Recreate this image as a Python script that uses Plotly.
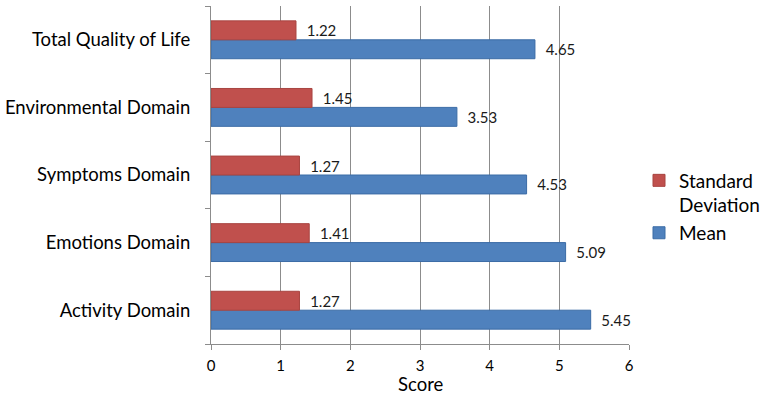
import plotly.graph_objects as go

categories = ["Activity Domain", "Emotions Domain", "Symptoms Domain",
              "Environmental Domain", "Total Quality of Life"]
mean_vals = [5.45, 5.09, 4.53, 3.53, 4.65]
sd_vals = [1.27, 1.41, 1.27, 1.45, 1.22]
x_ticks = [0, 1, 2, 3, 4, 5, 6]

FONT = "Lato, Liberation Sans, sans-serif"

fig = go.Figure()
fig.add_trace(go.Bar(
    y=categories, x=mean_vals, orientation="h", name="Mean", legendgroup="m",
    marker=dict(color="#4F81BD", line=dict(color="#3B6CA6", width=1)),
    text=[f"{v:.2f}" for v in mean_vals], textposition="outside",
    texttemplate="  %{text}",
    textfont=dict(family=FONT, size=15, color="#1a1a1a"), cliponaxis=False,
))
fig.add_trace(go.Bar(
    y=categories, x=sd_vals, orientation="h", name="Standard<br>Deviation", legendgroup="s",
    marker=dict(color="#C0504D", line=dict(color="#A84440", width=1)),
    text=[f"{v:.2f}" for v in sd_vals], textposition="outside",
    texttemplate="  %{text}",
    textfont=dict(family=FONT, size=15, color="#1a1a1a"), cliponaxis=False,
))

fig.update_layout(
    width=765, height=394,
    margin=dict(l=211, r=136, t=6, b=50, autoexpand=False),
    barmode="group", bargap=0.44, bargroupgap=0,
    plot_bgcolor="white", paper_bgcolor="white",
    font=dict(family=FONT, color="#000000"),
    legend=dict(x=(639 - 211) / 418, y=(344 - 207) / 338, xanchor="left", yanchor="middle",
                traceorder="reversed", font=dict(size=19, family=FONT), valign="top",
                itemwidth=30, tracegroupgap=26, bgcolor="rgba(0,0,0,0)"),
    xaxis=dict(range=[0, 6], tickvals=x_ticks, showgrid=True, gridcolor="#8c8c8c",
               gridwidth=1, showline=True, linecolor="#8c8c8c", ticks="outside",
               ticklen=5, tickcolor="#8c8c8c", zeroline=False, automargin=False,
               ticklabelstandoff=3,
               tickfont=dict(size=15, family=FONT)),
    yaxis=dict(showline=True, linecolor="#8c8c8c", ticks="outside", ticklen=5,
               tickcolor="#8c8c8c", tickson="boundaries", showgrid=False,
               automargin=False,
               tickfont=dict(size=18.5, family=FONT), ticklabelstandoff=16),
    annotations=[dict(text="Score", x=0.5, y=(344 - 384) / 338, xref="paper", yref="paper",
                      xanchor="center", yanchor="middle", showarrow=False,
                      font=dict(size=18.5, family=FONT))],
)

fig.write_html("out.html", config={"displayModeBar": False},
               post_script="document.body.style.margin='0';document.body.style.overflow='hidden';")
